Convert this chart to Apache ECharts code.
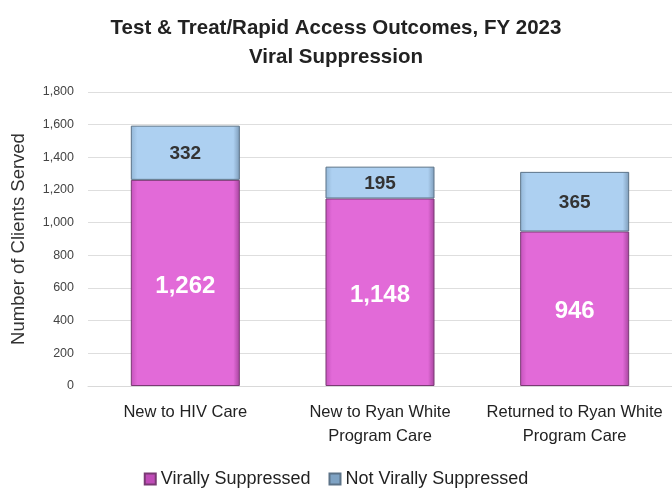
<!DOCTYPE html>
<html>
<head>
<meta charset="utf-8">
<script src="https://cdn.jsdelivr.net/npm/echarts@6.0.0/dist/echarts.min.js"></script>
<style>
  html, body { margin: 0; padding: 0; background: #fff; }
  #chart { width: 672px; height: 489px; }
</style>
</head>
<body>
<div id="chart"></div>
<script>
// chart data
const categories = ['New to HIV Care', 'New to Ryan White\nProgram Care', 'Returned to Ryan White\nProgram Care'];
const suppressed = [1262, 1148, 946];
const notSuppressed = [332, 195, 365];
const yTicks = [0, 200, 400, 600, 800, 1000, 1200, 1400, 1600, 1800];

const chart = echarts.init(document.getElementById('chart'));

const fmt = v => v.toLocaleString('en-US');

const magenta = new echarts.graphic.LinearGradient(0, 0, 1, 0, [
  { offset: 0, color: '#c553bc' },
  { offset: 0.06, color: '#e26ad8' },
  { offset: 0.94, color: '#e26ad8' },
  { offset: 1, color: '#a5449d' }
]);
const blue = new echarts.graphic.LinearGradient(0, 0, 1, 0, [
  { offset: 0, color: '#93b6d6' },
  { offset: 0.06, color: '#add0f1' },
  { offset: 0.94, color: '#add0f1' },
  { offset: 1, color: '#7d9bb8' }
]);

const option = {
  animation: false,
  title: {
    text: 'Test & Treat/Rapid Access Outcomes, FY 2023\nViral Suppression',
    left: 'center',
    top: 9,
    textStyle: {
      fontFamily: 'Liberation Sans',
      fontSize: 20.5,
      fontWeight: 'bold',
      color: '#222',
      lineHeight: 29
    }
  },
  legend: {
    top: 465,
    left: 'center',
    itemWidth: 11,
    itemHeight: 11,
    itemGap: 18,
    icon: 'rect',
    textStyle: { fontFamily: 'Liberation Sans', fontSize: 18, color: '#222' },
    data: [
      { name: 'Virally Suppressed', itemStyle: { color: '#c04cb8' } },
      { name: 'Not Virally Suppressed', itemStyle: { color: '#7fa3c4' } }
    ]
  },
  grid: { left: 88, right: 0, top: 92, bottom: 103 },
  xAxis: {
    type: 'category',
    data: categories,
    axisTick: { show: false },
    axisLine: { lineStyle: { color: '#d9d9d9' } },
    axisLabel: {
      interval: 0,
      fontFamily: 'Liberation Sans',
      fontSize: 16.5,
      color: '#222',
      lineHeight: 24,
      margin: 14
    }
  },
  yAxis: {
    type: 'value',
    min: yTicks[0],
    max: yTicks[yTicks.length - 1],
    interval: 200,
    name: 'Number of Clients Served',
    nameLocation: 'middle',
    nameGap: 60,
    nameTextStyle: { fontFamily: 'Liberation Sans', fontSize: 18.5, color: '#333' },
    axisLabel: {
      fontFamily: 'Liberation Sans',
      fontSize: 12.5,
      color: '#444',
      margin: 14,
      formatter: v => fmt(v)
    },
    splitLine: { lineStyle: { color: '#dedede' } }
  },
  series: [
    {
      name: 'Virally Suppressed',
      type: 'bar',
      stack: 'total',
      barWidth: '56%',
      data: suppressed,
      itemStyle: { color: magenta, borderColor: '#7a3a74', borderWidth: 1 },
      label: {
        show: true,
        position: 'inside',
        offset: [0, 3],
        fontFamily: 'Liberation Sans',
        fontSize: 24,
        fontWeight: 'bold',
        color: '#fff',
        formatter: p => fmt(p.value)
      }
    },
    {
      name: 'Not Virally Suppressed',
      type: 'bar',
      stack: 'total',
      data: notSuppressed,
      itemStyle: { color: blue, borderColor: '#5c7388', borderWidth: 1 },
      label: {
        show: true,
        position: 'inside',
        offset: [0, 1],
        fontFamily: 'Liberation Sans',
        fontSize: 19,
        fontWeight: 'bold',
        color: '#333',
        formatter: p => fmt(p.value)
      }
    }
  ]
};

chart.setOption(option);
</script>
</body>
</html>
